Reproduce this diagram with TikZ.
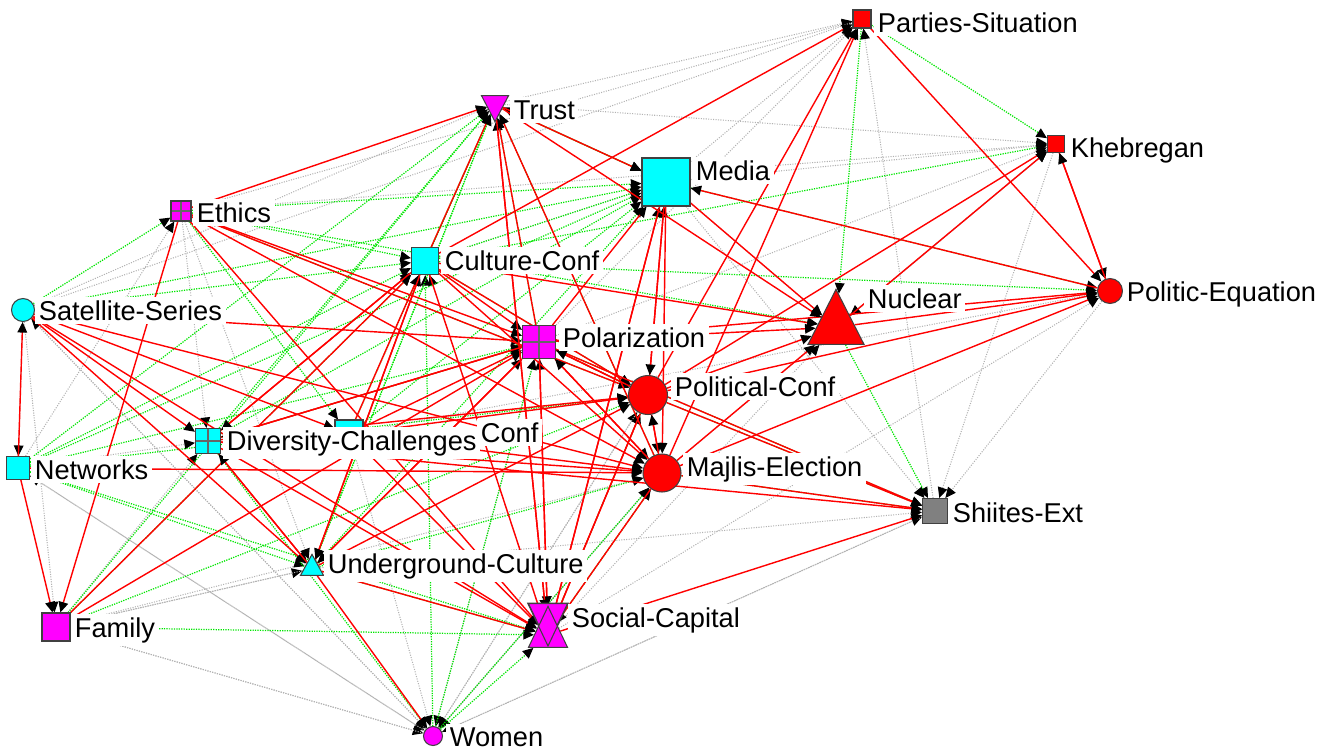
\documentclass[tikz,border=0pt]{standalone}
\usepackage{fontspec}
\setmainfont{Liberation Sans}
\usepackage{tikz}
\usetikzlibrary{arrows.meta,shapes.geometric}
\pgfdeclarelayer{links}
\pgfsetlayers{links,main}
\definecolor{nodecyan}{RGB}{0,255,255}
\definecolor{nodemag}{RGB}{255,0,255}
\definecolor{nodered}{RGB}{255,0,0}
\definecolor{nodegray}{RGB}{128,128,128}
\definecolor{linkgreen}{RGB}{0,230,0}

\begin{document}
\begin{tikzpicture}[x=0.02cm,y=-0.02cm,
  sqr/.style={rectangle,draw=black!75,line width=0.6pt,inner sep=0pt},
  rnd/.style={circle,draw=black!75,line width=0.6pt,inner sep=0pt},
  tri/.style={isosceles triangle,isosceles triangle stretches,draw=black!75,line width=0.6pt,inner sep=0pt},
  crossed/.style={path picture={\draw[black!60,line width=0.6pt] (path picture bounding box.north) -- (path picture bounding box.south) (path picture bounding box.west) -- (path picture bounding box.east);}},
  lbl/.style={anchor=base west,fill=white,inner sep=2pt,font=\fontsize{15.5}{18}\selectfont},
  tip/.style={-{Triangle[length=6pt,width=5.5pt,color=black]}},
  rl/.style={draw=nodered,line width=0.8pt,tip},
  gl/.style={draw=linkgreen,line width=0.7pt,dash pattern=on 0.7pt off 0.7pt,tip},
  kl/.style={draw=black!30,line width=0.6pt,dash pattern=on 0.6pt off 0.8pt,tip}]
\useasboundingbox (0,0) rectangle (1322,752);

% squares
\node (PS) at (862,19) [sqr,fill=nodered,minimum size=0.36cm] {};
\node (KH) at (1056,144) [sqr,fill=nodered,minimum size=0.34cm] {};
\node (ME) at (666,182) [sqr,fill=nodecyan,minimum size=0.96cm] {};
\node (ET) at (181,211) [sqr,crossed,fill=nodemag,minimum size=0.40cm] {};
\node (CC) at (425,261) [sqr,fill=nodecyan,minimum size=0.54cm] {};
\node (PO) at (539,342) [sqr,crossed,fill=nodemag,minimum size=0.66cm] {};
\node (XC) at (349,434) [sqr,fill=nodecyan,minimum size=0.56cm] {};
\node (DC) at (208,441) [sqr,crossed,fill=nodecyan,minimum size=0.50cm] {};
\node (NW) at (18,468) [sqr,fill=nodecyan,minimum size=0.46cm] {};
\node (SH) at (935,511) [sqr,fill=nodegray,minimum size=0.50cm] {};
\node (FA) at (56,627) [sqr,fill=nodemag,minimum size=0.56cm] {};
% circles
\node (SS) at (23,310) [rnd,fill=nodecyan,minimum size=0.46cm] {};
\node (PE) at (1110,291) [rnd,fill=nodered,minimum size=0.50cm] {};
\node (PC) at (648,395) [rnd,fill=nodered,minimum size=0.78cm] {};
\node (MJ) at (662,473) [rnd,fill=nodered,minimum size=0.76cm] {};
\node (WO) at (433,736) [rnd,fill=nodemag,minimum size=0.38cm] {};
% triangles
\node (TR) at (495,123) [tri,shape border rotate=270,anchor=apex,fill=nodemag,minimum width=0.54cm,minimum height=0.52cm] {};
\node (NU) at (836,288) [tri,shape border rotate=90,anchor=apex,fill=nodered,minimum width=1.12cm,minimum height=1.10cm] {};
\node (UC) at (312,553) [tri,shape border rotate=90,anchor=apex,fill=nodecyan,minimum width=0.46cm,minimum height=0.42cm] {};
\node (SCd) at (548,646) [tri,shape border rotate=270,anchor=apex,fill=nodemag,minimum width=0.78cm,minimum height=0.82cm] {};
\node (SC) at (548,605) [tri,shape border rotate=90,anchor=apex,fill=nodemag,minimum width=0.78cm,minimum height=0.82cm] {};
\draw[black!75,line width=0.6pt] (SCd.apex) -- (SCd.left corner) -- (SCd.right corner) -- cycle;

% labels
\node (PSt) at (874,32) [lbl] {Parties-Situation};
\node (TRt) at (510,119) [lbl] {Trust};
\node (MEt) at (692,180) [lbl] {Media};
\node (KHt) at (1067,157) [lbl] {Khebregan};
\node (ETt) at (193,222) [lbl] {Ethics};
\node (CCt) at (441,270) [lbl] {Culture-Conf};
\node (SSt) at (35,320) [lbl] {Satellite-Series};
\node (NUt) at (864,308) [lbl] {Nuclear};
\node (PEt) at (1123,301) [lbl] {Politic-Equation};
\node (POt) at (559,347) [lbl] {Polarization};
\node (PCt) at (671,396) [lbl] {Political-Conf};
\node (XCt) at (477,442) [lbl] {Conf};
\node (DCt) at (223,450) [lbl] {Diversity-Challenges};
\node (NWt) at (31,479) [lbl] {Networks};
\node (MJt) at (683,476) [lbl] {Majlis-Election};
\node (SHt) at (949,522) [lbl] {Shiites-Ext};
\node (UCt) at (324,573) [lbl] {Underground-Culture};
\node (SCt) at (568,627) [lbl] {Social-Capital};
\node (FAt) at (71,637) [lbl] {Family};
\node (WOt) at (446,746) [lbl] {Women};

\begin{pgfonlayer}{links}
% gray dotted
\draw[kl] (SS) edge (NW) edge (TR) edge (WO) edge (FA);
\draw[kl] (NW) edge (WO) edge (ET) edge (DC);
\draw[kl] (FA) edge (WO) edge (UC) edge (MJ) edge (DC);
\draw[kl] (ET) edge (DC) edge (KH) edge (UC) edge (PS);
\draw[kl] (XC) edge (WO) edge (PE);
\draw[kl] (UC) edge (SH) edge (FA);
\draw[kl] (WO) edge (PC) edge (MJ) edge (SH) edge (NW) edge (FA) edge (SS);
\draw[kl] (SC) edge (PE) edge (NU) edge (MJ) edge (CC);
\draw[kl] (CC) edge (ME);
\draw[kl] (PO) edge (PS) edge (KH) edge (WO);
\draw[kl] (PC) edge (WO);
\draw[kl] (MJ) edge (KH) edge (WO);
\draw[kl] (TR) edge (PS) edge (KH) edge (ME);
\draw[kl] (ME) edge (PS) edge (KH) edge (NU) edge (SH);
\draw[kl] (NU) edge (KH);
\draw[kl] (PS) edge (SS);
\draw[kl] (KH) edge (SH) edge (NU);
\draw[kl] (PE) edge (SH);
\draw[kl] (SH) edge (WO) edge (PS);
% green dotted
\draw[gl] (SS) edge (ET) edge (CC) edge (ME);
\draw[gl] (NW) edge (TR) edge (CC) edge (PO) edge (PC) edge (ME) edge (UC) edge (SC);
\draw[gl] (FA) edge (SC) edge (CC) edge (PC) edge (TR);
\draw[gl] (ET) edge (PC) edge (XC) edge (ME) edge (NU) edge (CC);
\draw[gl] (DC) edge (TR) edge (ME) edge (WO) edge (PO);
\draw[gl] (XC) edge (TR) edge (ME);
\draw[gl] (UC) edge (SC) edge (TR) edge (ME) edge (MJ);
\draw[gl] (WO) edge (SC) edge (CC) edge (PO) edge (MJ);
\draw[gl] (SC) edge (MJ);
\draw[gl] (CC) edge (TR) edge (ME) edge (KH) edge (PE) edge (PC);
\draw[gl] (PO) edge (PC) edge (TR) edge (SH);
\draw[gl] (PC) edge (SH) edge (SC);
\draw[gl] (MJ) edge (TR) edge (SH);
\draw[gl] (TR) edge (ME) edge (UC);
\draw[gl] (ME) edge (TR) edge (PE);
\draw[gl] (NU) edge (SH);
\draw[gl] (PS) edge (NU) edge (KH);
% red solid
\draw[rl] (SS) edge (DC) edge (UC) edge (SC) edge (XC) edge (PO) edge (MJ);
\draw[rl] (NW) edge (MJ) edge (FA) edge (SS);
\draw[rl] (FA) edge (CC) edge (PO);
\draw[rl] (ET) edge (TR) edge (PC) edge (PO) edge (SC) edge (FA) edge (MJ);
\draw[rl] (DC) edge (PO) edge (PC) edge (MJ) edge (SC) edge (CC) edge (SH) edge (UC);
\draw[rl] (XC) edge (PO) edge (CC) edge (SC) edge (MJ) edge (PC);
\draw[rl] (UC) edge (PO) edge (CC) edge (PC) edge (WO) edge (SC) edge (DC);
\draw[rl] (SC) edge (TR) edge (SH) edge (PO) edge (ME) edge (PC);
\draw[rl] (CC) edge (PS) edge (PO) edge (PC) edge (MJ) edge (SC) edge (TR) edge (NU) edge (UC) edge (DC);
\draw[rl] (PO) edge (PC) edge (MJ) edge (NU) edge (PE) edge (ME) edge (TR) edge (SH) edge (SC) edge (UC) edge (DC);
\draw[rl] (PC) edge (PS) edge (KH) edge (PE) edge (NU) edge (ME) edge (MJ) edge (SC) edge (PO) edge (SH);
\draw[rl] (MJ) edge (PS) edge (NU) edge (PE) edge (PC) edge (TR) edge (SH) edge (SC) edge (PO);
\draw[rl] (TR) edge (NU) edge (ME) edge (SC);
\draw[rl] (ME) edge (PC) edge (MJ) edge (SC) edge (NU);
\draw[rl] (NU) edge (KH) edge (PE);
\draw[rl] (PS) edge (PE);
\draw[rl] (KH) edge (PE);
\draw[rl] (PE) edge (KH) edge (ME);
\end{pgfonlayer}
\end{tikzpicture}
\end{document}
